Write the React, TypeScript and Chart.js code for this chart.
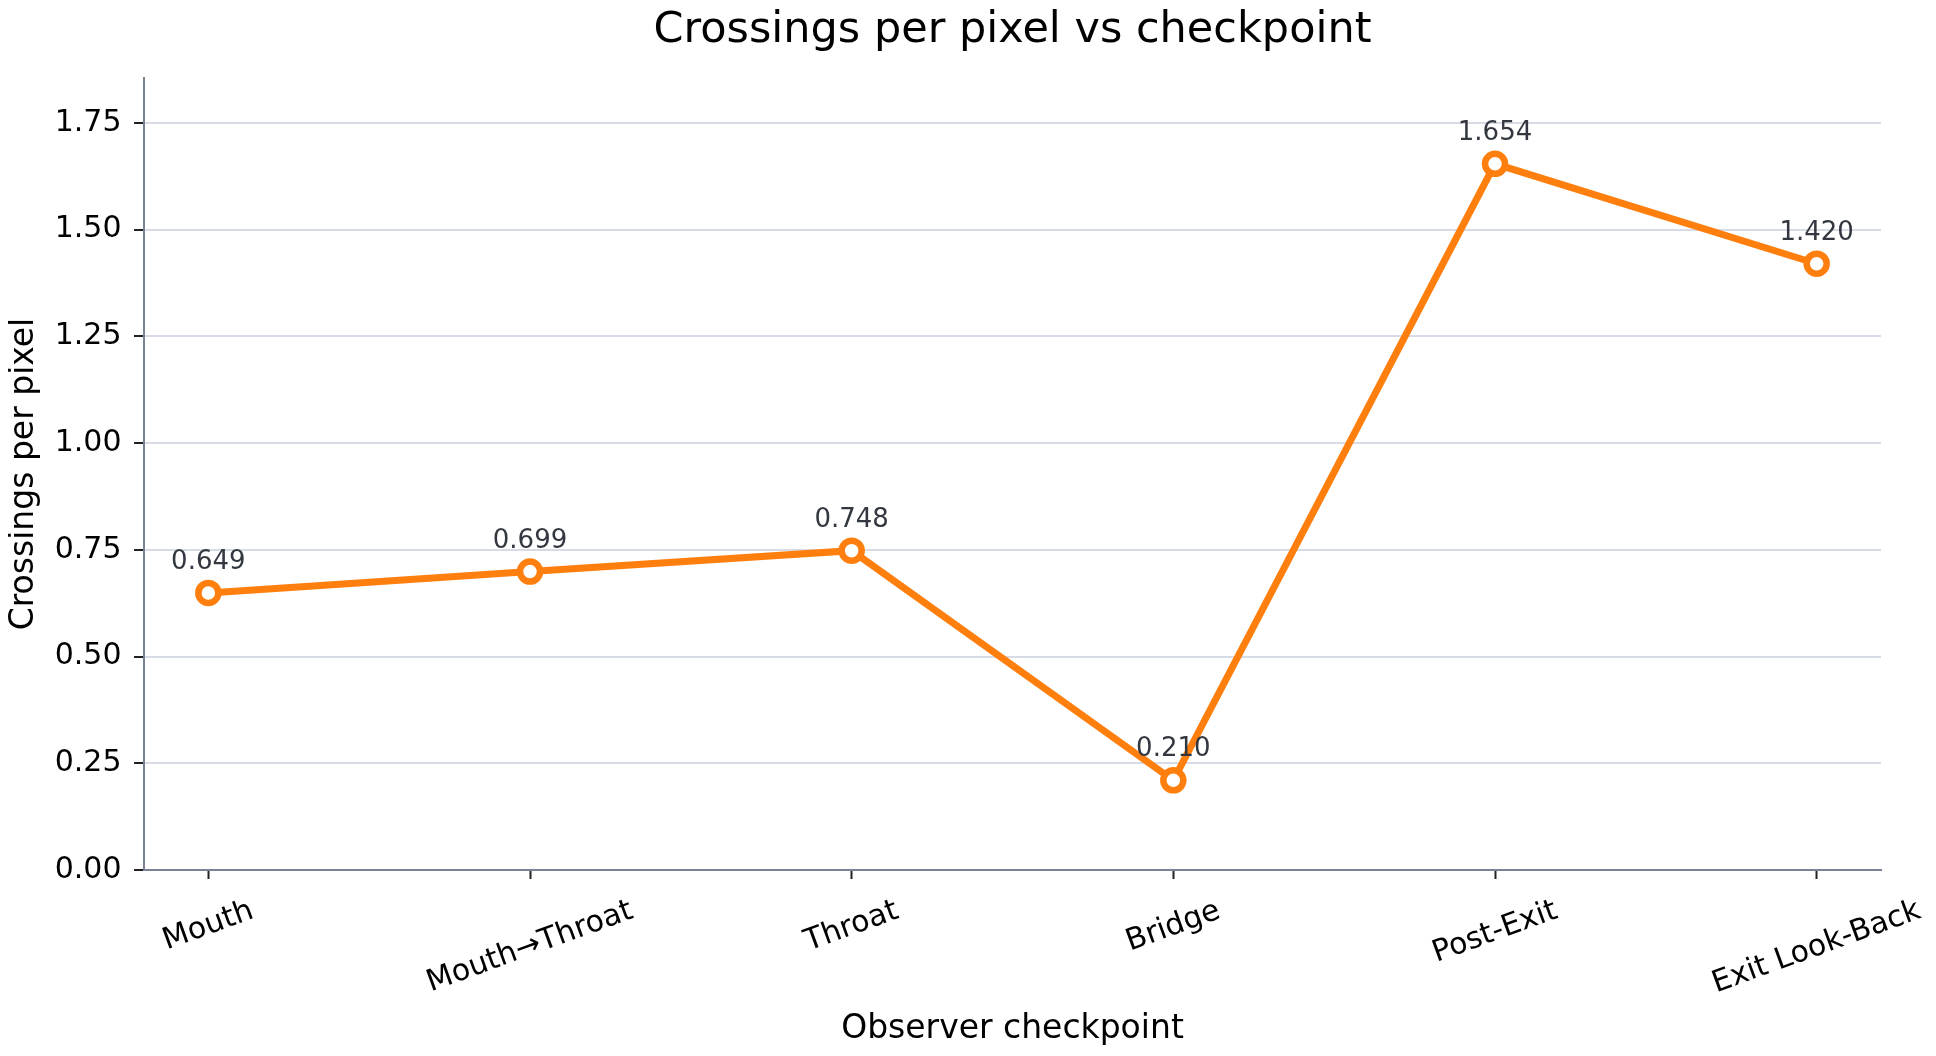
import { useEffect, useRef } from "react";
import { Chart, registerables, type ChartConfiguration, type Plugin } from "chart.js";

Chart.register(...registerables);

const checkpoints = ["Mouth", "Mouth→Throat", "Throat", "Bridge", "Post-Exit", "Exit Look-Back"];
const crossingsPerPixel = [0.649, 0.699, 0.748, 0.21, 1.654, 1.42];
const yTickValues = [0, 0.25, 0.5, 0.75, 1.0, 1.25, 1.5, 1.75];

const FONT = "'DejaVu Sans', 'Liberation Sans', sans-serif";
const ORANGE = "#ff7f0e";
const LABEL_ROTATION = 20;

// value labels above the points and rotated, centred category labels
const labelsPlugin: Plugin<"line"> = {
  id: "labels",
  afterDraw(chart) {
    const ctx = chart.ctx;
    const meta = chart.getDatasetMeta(0);
    ctx.save();
    ctx.font = `26px ${FONT}`;
    ctx.fillStyle = "#333840";
    ctx.textAlign = "center";
    ctx.textBaseline = "alphabetic";
    meta.data.forEach((pt, i) => {
      ctx.fillText(crossingsPerPixel[i].toFixed(3), pt.x, pt.y - 24);
    });

    const xScale = chart.scales.x;
    const theta = (LABEL_ROTATION * Math.PI) / 180;
    const top = xScale.top + 26;
    ctx.font = `30px ${FONT}`;
    ctx.fillStyle = "#000";
    ctx.textBaseline = "middle";
    checkpoints.forEach((name, i) => {
      const px = xScale.getPixelForValue(i);
      const w = ctx.measureText(name).width;
      const extent = w * Math.sin(theta) + 30 * Math.cos(theta);
      ctx.save();
      ctx.translate(px, top + extent / 2);
      ctx.rotate(-theta);
      ctx.fillText(name, 0, 0);
      ctx.restore();
    });
    ctx.restore();
  },
};

const CrossingsChart = () => {
  const chartRef = useRef<HTMLCanvasElement | null>(null);
  const chartInstance = useRef<Chart | null>(null);

  useEffect(() => {
    if (chartRef.current) {
      const config: ChartConfiguration<"line"> = {
        type: "line",
        data: {
          datasets: [
            {
              label: "Crossings per pixel",
              data: crossingsPerPixel.map((v, i) => ({ x: i, y: v })),
              borderColor: ORANGE,
              borderWidth: 7,
              pointRadius: 10,
              pointBorderWidth: 6.5,
              pointBackgroundColor: "#ffffff",
              pointBorderColor: ORANGE,
              tension: 0,
            },
          ],
        },
        options: {
          animation: false,
          responsive: false,
          maintainAspectRatio: false,
          layout: { padding: { left: 0, right: 55, top: 0, bottom: 0 } },
          plugins: {
            legend: { display: false },
            tooltip: { enabled: false },
            title: {
              display: true,
              text: "Crossings per pixel vs checkpoint",
              color: "#000",
              fullSize: false,
              font: { family: FONT, size: 43, weight: "normal", lineHeight: 1 },
              padding: { top: 9, bottom: 26 },
            },
          },
          scales: {
            x: {
              type: "linear",
              min: -0.2,
              max: 5.2,
              afterBuildTicks: (scale) => {
                scale.ticks = checkpoints.map((_, i) => ({ value: i }));
              },
              afterFit: (scale) => {
                scale.height = 186;
              },
              ticks: { display: false },
              grid: {
                display: true,
                drawOnChartArea: false,
                drawTicks: true,
                tickLength: 9,
                tickColor: "#222",
                tickWidth: 2,
              },
              border: { display: true, color: "#7a8296", width: 2 },
              title: {
                display: true,
                text: "Observer checkpoint",
                color: "#000",
                font: { family: FONT, size: 33, lineHeight: 1 },
                padding: { top: 0, bottom: 10.5 },
              },
            },
            y: {
              type: "linear",
              min: 0,
              max: 1.855,
              afterBuildTicks: (scale) => {
                scale.ticks = yTickValues.map((v) => ({ value: v }));
              },
              afterFit: (scale) => {
                scale.width = 144;
              },
              ticks: {
                color: "#000",
                padding: 12.5,
                font: { family: FONT, size: 30 },
                callback: (v) => Number(v).toFixed(2),
              },
              grid: {
                color: "#d7dbe5",
                lineWidth: 2,
                drawTicks: true,
                tickLength: 10,
                tickColor: "#222",
                tickWidth: 2,
              },
              border: { display: true, color: "#7a8296", width: 2 },
              title: {
                display: true,
                text: "Crossings per pixel",
                color: "#000",
                font: { family: FONT, size: 33, lineHeight: 1 },
                padding: { top: 8, bottom: 0 },
              },
            },
          },
        },
        plugins: [labelsPlugin],
      };

      chartInstance.current = new Chart(chartRef.current, config);
    }

    return () => {
      chartInstance.current?.destroy();
    };
  }, []);

  return <canvas ref={chartRef} width={1936} height={1056} style={{ display: "block" }}></canvas>;
};

export default function App() {
  return (
    <div style={{ margin: "-8px", width: 1936, height: 1056, background: "#fff" }}>
      <CrossingsChart />
    </div>
  );
}
